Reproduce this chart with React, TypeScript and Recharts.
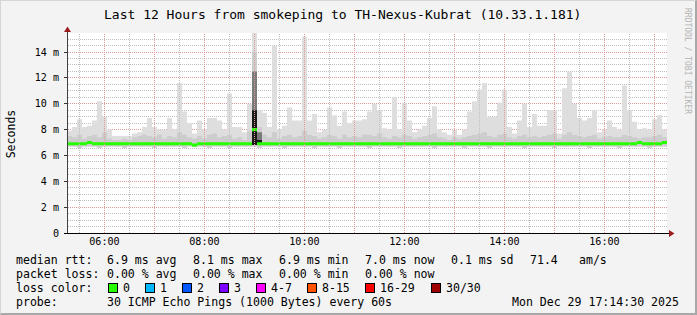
import { ComposedChart, Area, XAxis, YAxis, ReferenceLine } from 'recharts';

// time in minutes since midnight, one bin every 6 minutes (05:15 -> 17:15)
const START_MIN = 315;
const STEP_MIN = 6;

// top of the smoke (max rtt per bin), ms
const smokeHigh = [
  7.9, 8.2, 8.8, 8.2, 8.3, 8.7, 10.2, 9.0, 8.0, 7.5,
  7.5, 7.5, 7.5, 7.7, 7.8, 8.2, 8.9, 8.2, 8.0, 8.0,
  8.9, 8.0, 11.6, 9.4, 8.5, 7.7, 8.7, 8.0, 8.9, 8.9,
  8.7, 8.0, 10.8, 8.2, 8.2, 7.8, 10.0, 15.5, 9.5, 9.3,
  8.2, 14.5, 8.0, 8.3, 9.7, 8.7, 8.7, 15.2, 8.7, 9.2,
  7.8, 8.0, 9.7, 9.1, 8.3, 9.4, 8.5, 8.7, 8.7, 8.8,
  9.4, 10.0, 9.5, 8.1, 8.0, 10.5, 8.0, 10.1, 8.7, 7.8,
  8.0, 8.3, 8.9, 9.8, 8.0, 7.8, 7.6, 8.0, 7.6, 8.0,
  9.4, 10.2, 11.1, 11.6, 9.0, 9.0, 10.1, 11.1, 8.2, 7.7,
  8.7, 10.0, 8.2, 9.2, 8.3, 8.3, 9.5, 9.5, 7.7, 11.2,
  12.5, 10.0, 8.9, 8.7, 8.9, 9.5, 7.8, 8.0, 8.7, 8.2,
  8.0, 11.4, 9.5, 8.6, 8.0, 8.1, 8.0, 8.8, 9.1, 8.0,
  8.0,
];

// bottom of the smoke (min rtt per bin), ms
const smokeLow = [
  6.7, 6.7, 6.6, 6.7, 6.7, 6.7, 6.6, 6.7, 6.7, 6.7,
  6.7, 6.6, 6.7, 6.7, 6.7, 6.7, 6.7, 6.6, 6.7, 6.7,
  6.7, 6.7, 6.7, 6.6, 6.7, 6.7, 6.7, 6.7, 6.6, 6.7,
  6.7, 6.7, 6.6, 6.7, 6.7, 6.7, 6.7, 6.7, 6.6, 6.7,
  6.7, 6.7, 6.7, 6.6, 6.7, 6.7, 6.7, 6.7, 6.7, 6.6,
  6.7, 6.7, 6.7, 6.7, 6.6, 6.7, 6.7, 6.7, 6.7, 6.7,
  6.6, 6.7, 6.7, 6.7, 6.7, 6.7, 6.6, 6.7, 6.7, 6.7,
  6.7, 6.7, 6.7, 6.6, 6.7, 6.7, 6.7, 6.7, 6.7, 6.6,
  6.7, 6.7, 6.7, 6.7, 6.6, 6.7, 6.7, 6.7, 6.7, 6.7,
  6.7, 6.6, 6.7, 6.7, 6.7, 6.7, 6.7, 6.6, 6.7, 6.7,
  6.7, 6.7, 6.7, 6.7, 6.6, 6.7, 6.7, 6.7, 6.7, 6.7,
  6.6, 6.7, 6.7, 6.7, 6.7, 6.7, 6.6, 6.7, 6.7, 6.7,
  6.7,
];

// top of the denser (darker) part of the smoke, ms
const smokeCore = [
  7.5, 7.4, 7.6, 7.3, 7.5, 7.6, 7.4, 7.8, 7.3, 7.2,
  7.2, 7.3, 7.2, 7.4, 7.5, 7.6, 7.5, 7.4, 7.6, 7.3,
  7.5, 7.4, 7.8, 7.6, 7.4, 7.3, 7.5, 7.3, 7.6, 7.7,
  7.4, 7.5, 7.6, 7.3, 7.4, 7.2, 7.9, 14.0, 8.2, 7.6,
  7.4, 7.8, 7.3, 7.5, 7.6, 7.4, 7.5, 7.9, 7.6, 7.5,
  7.3, 7.4, 7.6, 7.5, 7.3, 7.6, 7.4, 7.5, 7.4, 7.6,
  7.6, 7.5, 7.7, 7.4, 7.3, 7.5, 7.4, 7.6, 7.5, 7.3,
  7.4, 7.5, 7.6, 7.7, 7.4, 7.3, 7.2, 7.4, 7.3, 7.4,
  7.5, 7.6, 7.7, 7.8, 7.5, 7.4, 7.6, 7.7, 7.4, 7.3,
  7.5, 7.6, 7.4, 7.5, 7.4, 7.5, 7.6, 7.7, 7.3, 7.6,
  7.8, 7.6, 7.5, 7.4, 7.5, 7.6, 7.3, 7.4, 7.5, 7.4,
  7.4, 7.6, 7.5, 7.4, 7.3, 7.4, 7.4, 7.5, 7.6, 7.4,
  7.4,
];

// median rtt per bin, ms (all bins had 0 loss -> green)
const medianRtt = [
  6.9, 6.9, 6.9, 6.9, 7.0, 6.9, 6.9, 6.9, 6.9, 6.9,
  6.9, 6.9, 6.9, 6.9, 6.9, 6.9, 6.9, 6.9, 6.9, 6.9,
  6.9, 6.9, 6.9, 6.9, 6.9, 6.8, 6.9, 6.9, 6.9, 6.9,
  6.9, 6.9, 6.9, 6.9, 6.9, 6.9, 6.9, 8.0, 6.9, 6.9,
  6.9, 6.9, 6.9, 6.9, 6.9, 6.9, 6.9, 6.9, 6.9, 6.9,
  6.9, 6.9, 6.9, 6.9, 6.9, 6.9, 6.9, 6.9, 6.9, 6.9,
  6.9, 6.9, 6.9, 6.9, 6.9, 6.9, 6.9, 6.9, 6.9, 6.9,
  6.9, 6.9, 6.9, 6.9, 6.9, 6.9, 6.9, 6.9, 6.9, 6.9,
  6.9, 6.9, 6.9, 6.9, 6.9, 6.9, 6.9, 6.9, 6.9, 6.9,
  6.9, 6.9, 6.9, 6.9, 6.9, 6.9, 6.9, 6.9, 6.9, 6.9,
  6.9, 6.9, 6.9, 6.9, 6.9, 6.9, 6.9, 6.9, 6.9, 6.9,
  6.9, 6.9, 6.9, 6.9, 7.0, 6.9, 6.9, 6.9, 6.9, 7.0,
  7.0,
];

// the 09:00 burst: very dense smoke
const spikeTimes = [537, 543, 549];
const spikeGray = [12.5, 7.8, 7.8];
const spikeBlack = [9.5, 7.2, 7.2];

const hourTicks = [360, 480, 600, 720, 840, 960];
const yTicks = [0, 2, 4, 6, 8, 10, 12, 14];
// every half millisecond gets a dotted line, every 2 ms a red one
const yGridLines = [
  0.5, 1, 1.5, 2, 2.5, 3, 3.5, 4, 4.5, 5, 5.5, 6, 6.5, 7, 7.5,
  8, 8.5, 9, 9.5, 10, 10.5, 11, 11.5, 12, 12.5, 13, 13.5, 14, 14.5, 15,
];
const xMajor = [360, 420, 480, 540, 600, 660, 720, 780, 840, 900, 960, 1020];
const xMinor = [330, 390, 450, 510, 570, 630, 690, 750, 810, 870, 930, 990];

const lossColors = [
  { label: '0', color: '#26ff00', x: 108 },
  { label: '1', color: '#00b8ff', x: 145 },
  { label: '2', color: '#0059ff', x: 182 },
  { label: '3', color: '#7e00ff', x: 219 },
  { label: '4-7', color: '#ff00ff', x: 256 },
  { label: '8-15', color: '#ff5500', x: 307 },
  { label: '16-29', color: '#ff0000', x: 365 },
  { label: '30/30', color: '#a10000', x: 431 },
];

const MONO = '"DejaVu Sans Mono", monospace';
const MEDIAN_HALF = 0.12; // half thickness of the median bar, ms
const MINOR_GRID = '#c0c0c0';
const MAJOR_GRID = '#e09a9a';
const Y_MAX = 15.47;

// plot box in page pixels (horizontal grid shares the chart's linear y mapping)
const PLOT_LEFT = 67;
const PLOT_TOP = 33;
const PLOT_BOTTOM = 233;
const yPx = (v: number) => PLOT_BOTTOM - (v / Y_MAX) * (PLOT_BOTTOM - PLOT_TOP);

const rows = smokeHigh.map((hi, i) => ({
  t: START_MIN + i * STEP_MIN,
  lo: smokeLow[i],
  hi,
  core: smokeCore[i],
  med: medianRtt[i],
}));

const spikeRows = spikeTimes.map((t, i) => ({ t, lo: 6.8, gray: spikeGray[i], black: spikeBlack[i] }));

const fmtTime = (v: number) => {
  const h = Math.floor(v / 60);
  const m = v % 60;
  return `${String(h).padStart(2, '0')}:${String(m).padStart(2, '0')}`;
};

const legendText = (text: string, x: number, top: number) => (
  <div
    key={`${text}-${x}-${top}`}
    style={{
      position: 'absolute',
      left: x,
      top,
      fontFamily: MONO,
      fontSize: '11.55px',
      lineHeight: '14px',
      whiteSpace: 'pre',
      color: '#000',
    }}
  >
    {text}
  </div>
);

export default function App() {
  const r1 = 252;
  const r2 = 266;
  const r3 = 280;
  const r4 = 294;

  return (
    <div
      style={{
        position: 'absolute',
        left: 0,
        top: 0,
        width: 697,
        height: 315,
        boxSizing: 'border-box',
        background: '#f3f3f3',
        borderLeft: '1px solid #d6d6d6',
        borderTop: '1px solid #d6d6d6',
        borderRight: '2px solid #a8a8a8',
        borderBottom: '2px solid #a8a8a8',
        overflow: 'hidden',
      }}
    >
      <div style={{ position: 'absolute', left: 66, top: 32, width: 600, height: 200, background: '#ffffff' }} />

      {/* horizontal dotted grid under the data (container origin is page (1,1)) */}
      {yGridLines.map((v) => {
        const top = Math.floor(yPx(v)) - 1;
        const major = v % 2 === 0;
        return (
          <div key={`g${v}`}>
            <div
              style={{
                position: 'absolute',
                left: PLOT_LEFT - 1,
                top,
                width: 600,
                height: 0,
                borderTop: `1px dotted ${major ? MAJOR_GRID : MINOR_GRID}`,
              }}
            />
            {major && (
              <div
                style={{
                  position: 'absolute',
                  left: PLOT_LEFT - 4,
                  top,
                  width: 4,
                  height: 1,
                  background: '#333',
                }}
              />
            )}
          </div>
        );
      })}

      <div style={{ position: 'absolute', left: -1, top: -1 }}>
        <ComposedChart width={697} height={315} data={rows} margin={{ top: 33, right: 30, bottom: 52, left: 17 }}>
          <XAxis
            dataKey="t"
            type="number"
            domain={[315, 1035]}
            allowDataOverflow
            ticks={hourTicks}
            tickFormatter={fmtTime}
            axisLine={false}
            tickLine={false}
            tickSize={2}
            tickMargin={3}
            height={30}
            tick={{ fontFamily: MONO, fontSize: 10.1, fill: '#000' }}
          />
          <YAxis
            type="number"
            domain={[0, Y_MAX]}
            allowDataOverflow
            ticks={yTicks}
            interval={0}
            tickFormatter={(v: number) => (v === 0 ? '0' : `${v} m`)}
            axisLine={false}
            tickLine={false}
            tickSize={3}
            tickMargin={5}
            width={50}
            tick={{ fontFamily: MONO, fontSize: 10.1, fill: '#000' }}
          />
          {xMinor.map((v) => (
            <ReferenceLine key={`xm${v}`} x={v} stroke={MINOR_GRID} strokeDasharray="1 1" shapeRendering="crispEdges" />
          ))}
          {xMajor.map((v) => (
            <ReferenceLine key={`xM${v}`} x={v} stroke={MAJOR_GRID} strokeDasharray="1 1" shapeRendering="crispEdges" />
          ))}
          <Area
            type="stepAfter"
            dataKey={(d: any) => [d.lo, d.hi]}
            stroke="none"
            fill="#dedede"
            fillOpacity={1}
            isAnimationActive={false}
          />
          <Area
            type="stepAfter"
            dataKey={(d: any) => [d.lo, d.core]}
            stroke="none"
            fill="#cdcdcd"
            fillOpacity={1}
            isAnimationActive={false}
          />
          <Area
            type="stepAfter"
            data={spikeRows}
            dataKey={(d: any) => [d.lo, d.gray]}
            stroke="none"
            fill="#7a7a7a"
            fillOpacity={1}
            isAnimationActive={false}
          />
          <Area
            type="stepAfter"
            data={spikeRows}
            dataKey={(d: any) => [d.lo, d.black]}
            stroke="none"
            fill="#1a1a1a"
            fillOpacity={1}
            isAnimationActive={false}
          />
          <Area
            type="stepAfter"
            dataKey={(d: any) => [d.med - MEDIAN_HALF, d.med + MEDIAN_HALF]}
            stroke="none"
            fill="#26ff00"
            fillOpacity={1}
            isAnimationActive={false}
          />
        </ComposedChart>
      </div>

      {/* axis lines with rrdtool arrows */}
      <svg width={697} height={315} style={{ position: 'absolute', left: -1, top: -1, pointerEvents: 'none' }}>
        <line x1={67.5} y1={233} x2={67.5} y2={30} stroke="#404040" strokeWidth={1} />
        <polygon points="64,32 71,32 67.5,26.5" fill="#9b1c1c" />
        <line x1={64} y1={233.5} x2={670} y2={233.5} stroke="#000" strokeWidth={1} />
        <polygon points="669,230 669,237 674.5,233.5" fill="#9b1c1c" />
      </svg>

      <div
        style={{
          position: 'absolute',
          left: 103,
          top: 6,
          fontFamily: MONO,
          fontSize: '13px',
          lineHeight: '16px',
          whiteSpace: 'pre',
          color: '#000',
        }}
      >
        Last 12 Hours from smokeping to TH-Nexus-Kubrat (10.33.1.181)
      </div>

      <div
        style={{
          position: 'absolute',
          left: 10,
          top: 133,
          transform: 'translate(-50%, -50%) rotate(-90deg)',
          fontFamily: MONO,
          fontSize: '11.55px',
          lineHeight: '14px',
          whiteSpace: 'pre',
          color: '#000',
        }}
      >
        Seconds
      </div>

      <div
        style={{
          position: 'absolute',
          left: 686,
          top: 60,
          transform: 'translate(-50%, -50%) rotate(90deg)',
          fontFamily: MONO,
          fontSize: '8px',
          lineHeight: '9px',
          whiteSpace: 'pre',
          color: '#b4b4b4',
        }}
      >
        RRDTOOL / TOBI OETIKER
      </div>

      {legendText('median rtt:', 15, r1)}
      {legendText('6.9 ms avg', 106, r1)}
      {legendText('8.1 ms max', 192, r1)}
      {legendText('6.9 ms min', 278, r1)}
      {legendText('7.0 ms now', 364, r1)}
      {legendText('0.1 ms sd', 450, r1)}
      {legendText('71.4', 529, r1)}
      {legendText('am/s', 578, r1)}

      {legendText('packet loss:', 15, r2)}
      {legendText('0.00 % avg', 106, r2)}
      {legendText('0.00 % max', 192, r2)}
      {legendText('0.00 % min', 278, r2)}
      {legendText('0.00 % now', 364, r2)}

      {legendText('loss color:', 15, r3)}
      {lossColors.map((c) => (
        <div key={c.label}>
          <div
            style={{
              position: 'absolute',
              left: c.x - 1,
              top: 282,
              width: 8,
              height: 8,
              background: c.color,
              border: '1px solid #000',
            }}
          />
          {legendText(c.label, c.x + 14, r3)}
        </div>
      ))}

      {legendText('probe:', 15, r4)}
      {legendText('30 ICMP Echo Pings (1000 Bytes) every 60s', 106, r4)}
      {legendText('Mon Dec 29 17:14:30 2025', 511, r4)}
    </div>
  );
}
